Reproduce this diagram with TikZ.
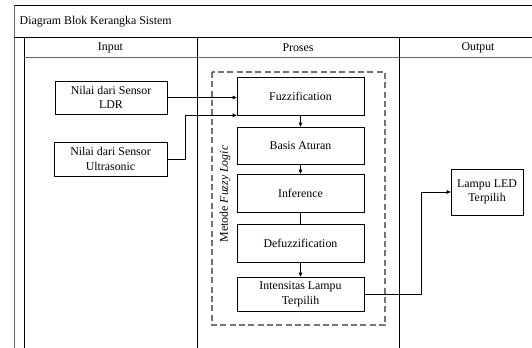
\documentclass[tikz,border=0pt]{standalone}
\usepackage{fontspec}
\setmainfont{Liberation Serif}
\usepackage{tikz}
\usetikzlibrary{calc, arrows.meta, positioning}

\tikzset{
    teks/.style={font=\fontsize{8.9}{11}\selectfont},
    blok/.style={draw, thin, align=center, inner sep=1pt, teks},
    garis/.style={thin, black},
    panah/.style={thin, arrows={-{Triangle[length=3pt, width=2.6pt]}}},
}

\begin{document}
\begin{tikzpicture}[x=0.75pt, y=-0.75pt]
    \useasboundingbox (0, 0) rectangle (532, 347);
    \clip (0, 0) rectangle (532, 347);
    \fill [white] (0, 0) rectangle (532, 347);
    % kerangka tabel
    \coordinate (topLeft) at (14, 5);
    \coordinate (colInput) at (24, 37);
    \coordinate (colProses) at (197, 37);
    \coordinate (colOutput) at (399, 37);
    \draw [garis] (topLeft) -- (557, 5) -- (557, 360);
    \draw [garis, gray!80!black] (topLeft) -- (14, 360);
    \draw [garis] (14, 37) -- (557, 37);
    \draw [garis] (colInput) -- (24, 360);
    \draw [garis, gray!80!black] (24, 57) -- (557, 57);
    \draw [garis] (colProses) -- (197, 360);
    \draw [garis] (colOutput) -- (399, 360);
    \node [anchor=west, teks] (judul) at (15, 21.5) {Diagram Blok Kerangka Sistem};
    \node [teks] (hInput) at (110.5, 47.5) {Input};
    \node [teks] (hProses) at (298, 47.5) {Proses};
    \node [teks] (hOutput) at (478, 47.5) {Output};
    % metode fuzzy logic
    \draw [gray!90!black, thick, dash pattern=on 4.5pt off 2.5pt] (212, 72) rectangle (385, 325);
    \node [rotate=90, teks] (metode) at (225, 194) {Metode \textit{Fuzzy Logic}};
    % blok input
    \node [blok, minimum width=84pt, minimum height=25pt] (sensorLdr) at (111, 97.5) {Nilai dari Sensor\\LDR};
    \node [blok, minimum width=84.5pt, minimum height=25.5pt] (sensorUltra) at (110.5, 159) {Nilai dari Sensor\\Ultrasonic};
    % blok proses
    \node [blok, minimum width=95.25pt, minimum height=28.5pt] (fuzzification) at (300.5, 96) {Fuzzification};
    \node [blok, minimum width=95.25pt, minimum height=27.75pt] (basisAturan) at (300.5, 145.5) {Basis Aturan};
    \node [blok, minimum width=95.25pt, minimum height=28.5pt] (inference) at (300.5, 193) {Inference};
    \node [blok, minimum width=95.25pt, minimum height=28.5pt] (defuzzification) at (300.5, 243) {Defuzzification};
    \node [blok, minimum width=95.25pt, minimum height=25.5pt] (intensitas) at (300.5, 294) {Intensitas Lampu\\Terpilih};
    % blok output
    \node [blok, minimum width=54pt, minimum height=34.5pt] (lampuLed) at (487, 192) {Lampu LED\\Terpilih};
    % penghubung
    \draw [panah] (sensorLdr.east) -- (sensorLdr.east -| fuzzification.west);
    \draw [panah] (sensorUltra.east) -- ++(18, 0) |- (fuzzification.south west);
    \draw [panah] (fuzzification) -- (basisAturan);
    \draw [panah] (basisAturan) -- (inference);
    \draw [garis] (inference) -- (defuzzification);
    \draw [panah] (defuzzification) -- (intensitas);
    \draw [panah] (intensitas.east) -- ++(57, 0) |- (lampuLed.west);
\end{tikzpicture}
\end{document}
